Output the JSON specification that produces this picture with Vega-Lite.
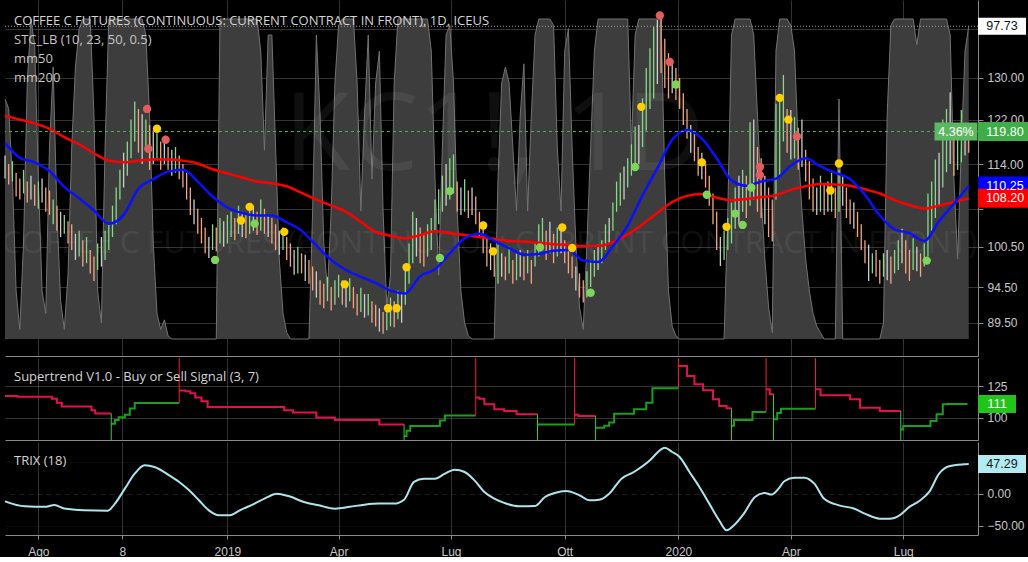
{
  "$schema": "https://vega.github.io/schema/vega-lite/v6.json",
  "background": "#000000",
  "padding": 0,
  "spacing": 1,
  "config": {
    "view": {"stroke": null},
    "axis": {"labelFont": "Liberation Sans", "labelFontSize": 12, "labelColor": "#c8c8c8", "grid": true, "gridColor": "#ffffff", "gridOpacity": 0.2, "gridWidth": 1, "domainColor": "#8a8a8a", "domainWidth": 1, "tickColor": "#8a8a8a", "tickSize": 5, "labelPadding": 4, "zindex": 1},
    "title": {"anchor": "start", "frame": "group", "orient": "top", "dx": 9, "font": "Open Sans", "fontSize": 13, "fontWeight": 400, "color": "#d4d4d4", "subtitleFont": "Open Sans", "subtitleFontSize": 13, "subtitleColor": "#c4c4c4", "subtitleLineHeight": 19, "subtitlePadding": 6}
  },
  "datasets": {
    "bars": [
      {"t":"2018-07-05","lo":111.5,"hi":115.5,"k":"n"},{"t":"2018-07-08","lo":110.5,"hi":114,"k":"d"},{"t":"2018-07-11","lo":111,"hi":114.5,"k":"u"},{"t":"2018-07-14","lo":108.5,"hi":112.5,"k":"d"},{"t":"2018-07-17","lo":108,"hi":111.5,"k":"d"},{"t":"2018-07-20","lo":109,"hi":113,"k":"u"},{"t":"2018-07-23","lo":107.5,"hi":111,"k":"d"},{"t":"2018-07-26","lo":108,"hi":112,"k":"n"},{"t":"2018-07-29","lo":107,"hi":110.5,"k":"d"},
      {"t":"2018-08-01","lo":106.5,"hi":111,"k":"u"},{"t":"2018-08-04","lo":107.5,"hi":111.5,"k":"n"},{"t":"2018-08-07","lo":106,"hi":110,"k":"d"},{"t":"2018-08-10","lo":105.5,"hi":109.5,"k":"d"},{"t":"2018-08-13","lo":104,"hi":108,"k":"u"},{"t":"2018-08-16","lo":103,"hi":107,"k":"d"},{"t":"2018-08-19","lo":102,"hi":106,"k":"n"},{"t":"2018-08-22","lo":102.5,"hi":105.5,"k":"u"},{"t":"2018-08-25","lo":101,"hi":104.5,"k":"d"},{"t":"2018-08-28","lo":100,"hi":104,"k":"d"},{"t":"2018-08-31","lo":98.5,"hi":102.5,"k":"n"},
      {"t":"2018-09-03","lo":99,"hi":103,"k":"u"},{"t":"2018-09-06","lo":97.5,"hi":101.5,"k":"d"},{"t":"2018-09-09","lo":98,"hi":102,"k":"u"},{"t":"2018-09-12","lo":96.5,"hi":100,"k":"d"},{"t":"2018-09-15","lo":95.4,"hi":99,"k":"d"},{"t":"2018-09-18","lo":97,"hi":101,"k":"u"},{"t":"2018-09-21","lo":97.5,"hi":102,"k":"n"},{"t":"2018-09-24","lo":98.5,"hi":103,"k":"u"},{"t":"2018-09-27","lo":100,"hi":104,"k":"u"},{"t":"2018-09-30","lo":102,"hi":107,"k":"u"},
      {"t":"2018-10-03","lo":104,"hi":110,"k":"u"},{"t":"2018-10-06","lo":108,"hi":113,"k":"u"},{"t":"2018-10-09","lo":110,"hi":116,"k":"n"},{"t":"2018-10-12","lo":112,"hi":118,"k":"u"},{"t":"2018-10-15","lo":115,"hi":122,"k":"u"},{"t":"2018-10-18","lo":118,"hi":125.4,"k":"u"},{"t":"2018-10-21","lo":116,"hi":124,"k":"d"},{"t":"2018-10-24","lo":114,"hi":123,"k":"n"},{"t":"2018-10-27","lo":117,"hi":122,"k":"u"},{"t":"2018-10-30","lo":113,"hi":121,"k":"d"},
      {"t":"2018-11-02","lo":114,"hi":120,"k":"n"},{"t":"2018-11-05","lo":115,"hi":119.5,"k":"u"},{"t":"2018-11-08","lo":113,"hi":118,"k":"d"},{"t":"2018-11-11","lo":114,"hi":118.5,"k":"n"},{"t":"2018-11-14","lo":113,"hi":117,"k":"d"},{"t":"2018-11-17","lo":112,"hi":116.5,"k":"n"},{"t":"2018-11-20","lo":112.5,"hi":117,"k":"u"},{"t":"2018-11-23","lo":111.4,"hi":115.5,"k":"d"},{"t":"2018-11-26","lo":110,"hi":114,"k":"d"},{"t":"2018-11-29","lo":108,"hi":112.5,"k":"d"},
      {"t":"2018-12-02","lo":105.5,"hi":110,"k":"d"},{"t":"2018-12-05","lo":104,"hi":108,"k":"n"},{"t":"2018-12-08","lo":102.5,"hi":106.5,"k":"d"},{"t":"2018-12-11","lo":101,"hi":105,"k":"d"},{"t":"2018-12-14","lo":99.5,"hi":103.5,"k":"d"},{"t":"2018-12-17","lo":98.8,"hi":102,"k":"n"},{"t":"2018-12-20","lo":100,"hi":104,"k":"u"},{"t":"2018-12-23","lo":99.8,"hi":103.5,"k":"d"},{"t":"2018-12-26","lo":101,"hi":105,"k":"u"},{"t":"2018-12-29","lo":100.5,"hi":104.5,"k":"n"},
      {"t":"2019-01-01","lo":101,"hi":105.5,"k":"u"},{"t":"2019-01-04","lo":102,"hi":106,"k":"u"},{"t":"2019-01-07","lo":101.5,"hi":105,"k":"d"},{"t":"2019-01-10","lo":102.5,"hi":107,"k":"u"},{"t":"2019-01-13","lo":102,"hi":106,"k":"n"},{"t":"2019-01-16","lo":101.8,"hi":105.5,"k":"d"},{"t":"2019-01-19","lo":102.5,"hi":106.5,"k":"u"},{"t":"2019-01-22","lo":103,"hi":107,"k":"n"},{"t":"2019-01-25","lo":102.3,"hi":106,"k":"d"},{"t":"2019-01-28","lo":103,"hi":108,"k":"u"},{"t":"2019-01-31","lo":102.5,"hi":106.5,"k":"d"},
      {"t":"2019-02-03","lo":102,"hi":105.5,"k":"n"},{"t":"2019-02-06","lo":101,"hi":105,"k":"d"},{"t":"2019-02-09","lo":100,"hi":104,"k":"d"},{"t":"2019-02-12","lo":99.3,"hi":103,"k":"n"},{"t":"2019-02-15","lo":100,"hi":103.5,"k":"u"},{"t":"2019-02-18","lo":98.5,"hi":102,"k":"d"},{"t":"2019-02-21","lo":97.5,"hi":101,"k":"d"},{"t":"2019-02-24","lo":96.3,"hi":100,"k":"n"},{"t":"2019-02-27","lo":96.5,"hi":100.5,"k":"u"},
      {"t":"2019-03-02","lo":96.5,"hi":99.5,"k":"d"},{"t":"2019-03-05","lo":95.4,"hi":99.3,"k":"n"},{"t":"2019-03-08","lo":95,"hi":98.5,"k":"d"},{"t":"2019-03-11","lo":94,"hi":97.5,"k":"d"},{"t":"2019-03-14","lo":93,"hi":96.8,"k":"n"},{"t":"2019-03-17","lo":92,"hi":95.5,"k":"d"},{"t":"2019-03-20","lo":91.5,"hi":95,"k":"d"},{"t":"2019-03-23","lo":92.5,"hi":96,"k":"u"},{"t":"2019-03-26","lo":91.2,"hi":94.5,"k":"d"},{"t":"2019-03-29","lo":92,"hi":95.5,"k":"u"},
      {"t":"2019-04-01","lo":93,"hi":96.3,"k":"u"},{"t":"2019-04-04","lo":92,"hi":95.5,"k":"d"},{"t":"2019-04-07","lo":91.6,"hi":95,"k":"n"},{"t":"2019-04-10","lo":92.5,"hi":95.8,"k":"u"},{"t":"2019-04-13","lo":91.5,"hi":94.5,"k":"d"},{"t":"2019-04-16","lo":90.5,"hi":93.5,"k":"d"},{"t":"2019-04-19","lo":91,"hi":94.4,"k":"u"},{"t":"2019-04-22","lo":90.2,"hi":93.5,"k":"n"},{"t":"2019-04-25","lo":90.5,"hi":93.5,"k":"u"},{"t":"2019-04-28","lo":89.5,"hi":92.5,"k":"d"},
      {"t":"2019-05-01","lo":89,"hi":92,"k":"d"},{"t":"2019-05-04","lo":88.3,"hi":91.5,"k":"n"},{"t":"2019-05-07","lo":88,"hi":91,"k":"d"},{"t":"2019-05-10","lo":88.5,"hi":92,"k":"u"},{"t":"2019-05-13","lo":89,"hi":93,"k":"u"},{"t":"2019-05-16","lo":88.9,"hi":92.5,"k":"d"},{"t":"2019-05-19","lo":90,"hi":94,"k":"u"},{"t":"2019-05-22","lo":89.5,"hi":93.5,"k":"n"},{"t":"2019-05-25","lo":92,"hi":97.5,"k":"u"},{"t":"2019-05-28","lo":95,"hi":101,"k":"u"},{"t":"2019-05-31","lo":98,"hi":106,"k":"u"},
      {"t":"2019-06-03","lo":99,"hi":105,"k":"n"},{"t":"2019-06-06","lo":98,"hi":103.5,"k":"d"},{"t":"2019-06-09","lo":97.5,"hi":102.5,"k":"d"},{"t":"2019-06-12","lo":99,"hi":104,"k":"u"},{"t":"2019-06-15","lo":100,"hi":105,"k":"u"},{"t":"2019-06-18","lo":103,"hi":108,"k":"u"},{"t":"2019-06-21","lo":104,"hi":109.7,"k":"u"},{"t":"2019-06-24","lo":106,"hi":112,"k":"u"},{"t":"2019-06-27","lo":107,"hi":114,"k":"n"},{"t":"2019-06-30","lo":108,"hi":115,"k":"u"},
      {"t":"2019-07-03","lo":109,"hi":115.7,"k":"u"},{"t":"2019-07-06","lo":106,"hi":111,"k":"d"},{"t":"2019-07-09","lo":105.5,"hi":110,"k":"n"},{"t":"2019-07-12","lo":106,"hi":111.4,"k":"u"},{"t":"2019-07-15","lo":105,"hi":109.5,"k":"d"},{"t":"2019-07-18","lo":105.5,"hi":110,"k":"n"},{"t":"2019-07-21","lo":104,"hi":108.5,"k":"d"},{"t":"2019-07-24","lo":102,"hi":106,"k":"d"},{"t":"2019-07-27","lo":99.5,"hi":104.4,"k":"d"},{"t":"2019-07-30","lo":97.5,"hi":102,"k":"d"},
      {"t":"2019-08-02","lo":97,"hi":101,"k":"n"},{"t":"2019-08-05","lo":96,"hi":100,"k":"d"},{"t":"2019-08-08","lo":95,"hi":100.8,"k":"u"},{"t":"2019-08-11","lo":96,"hi":99.5,"k":"n"},{"t":"2019-08-14","lo":95.5,"hi":99,"k":"d"},{"t":"2019-08-17","lo":96.5,"hi":100.5,"k":"u"},{"t":"2019-08-20","lo":95,"hi":98.5,"k":"d"},{"t":"2019-08-23","lo":95.5,"hi":99.5,"k":"u"},{"t":"2019-08-26","lo":96,"hi":100,"k":"n"},{"t":"2019-08-29","lo":95.5,"hi":99,"k":"d"},
      {"t":"2019-09-01","lo":96.5,"hi":100,"k":"u"},{"t":"2019-09-04","lo":95,"hi":98.5,"k":"d"},{"t":"2019-09-07","lo":97.5,"hi":101,"k":"u"},{"t":"2019-09-10","lo":99,"hi":104,"k":"u"},{"t":"2019-09-13","lo":100,"hi":105,"k":"u"},{"t":"2019-09-16","lo":98.5,"hi":103,"k":"d"},{"t":"2019-09-19","lo":99.5,"hi":104.4,"k":"n"},{"t":"2019-09-22","lo":98,"hi":102.5,"k":"d"},{"t":"2019-09-25","lo":99,"hi":103.5,"k":"u"},{"t":"2019-09-28","lo":99.5,"hi":104,"k":"n"},
      {"t":"2019-10-01","lo":98,"hi":101.5,"k":"d"},{"t":"2019-10-04","lo":96.5,"hi":100,"k":"d"},{"t":"2019-10-07","lo":95.8,"hi":99,"k":"d"},{"t":"2019-10-10","lo":94,"hi":97.5,"k":"n"},{"t":"2019-10-13","lo":93,"hi":96.5,"k":"d"},{"t":"2019-10-16","lo":92.3,"hi":95.5,"k":"d"},{"t":"2019-10-19","lo":93,"hi":96.8,"k":"u"},{"t":"2019-10-22","lo":94.5,"hi":98.5,"k":"u"},{"t":"2019-10-25","lo":96,"hi":100,"k":"u"},{"t":"2019-10-28","lo":97,"hi":100.8,"k":"n"},{"t":"2019-10-31","lo":98,"hi":101.5,"k":"u"},
      {"t":"2019-11-03","lo":100,"hi":104,"k":"u"},{"t":"2019-11-06","lo":101,"hi":105,"k":"n"},{"t":"2019-11-09","lo":103,"hi":107.5,"k":"u"},{"t":"2019-11-12","lo":106,"hi":111,"k":"u"},{"t":"2019-11-15","lo":107,"hi":112.5,"k":"u"},{"t":"2019-11-18","lo":108,"hi":113.6,"k":"n"},{"t":"2019-11-21","lo":110,"hi":115,"k":"u"},{"t":"2019-11-24","lo":112,"hi":117.5,"k":"u"},{"t":"2019-11-27","lo":113,"hi":120.7,"k":"u"},{"t":"2019-11-30","lo":114,"hi":121,"k":"n"},
      {"t":"2019-12-03","lo":117,"hi":126,"k":"u"},{"t":"2019-12-06","lo":120,"hi":132,"k":"u"},{"t":"2019-12-09","lo":124,"hi":136,"k":"u"},{"t":"2019-12-12","lo":126,"hi":140.5,"k":"u"},{"t":"2019-12-15","lo":128.8,"hi":142,"k":"n"},{"t":"2019-12-18","lo":131,"hi":143,"k":"d"},{"t":"2019-12-21","lo":128,"hi":138,"k":"d"},{"t":"2019-12-24","lo":126,"hi":135,"k":"d"},{"t":"2019-12-27","lo":127,"hi":133.5,"k":"n"},{"t":"2019-12-30","lo":125.7,"hi":132,"k":"d"},
      {"t":"2020-01-02","lo":124,"hi":130,"k":"d"},{"t":"2020-01-05","lo":121,"hi":127,"k":"d"},{"t":"2020-01-08","lo":118.5,"hi":124,"k":"d"},{"t":"2020-01-11","lo":116,"hi":121,"k":"n"},{"t":"2020-01-14","lo":114.5,"hi":119.5,"k":"d"},{"t":"2020-01-17","lo":112,"hi":117,"k":"d"},{"t":"2020-01-20","lo":111.4,"hi":116,"k":"n"},{"t":"2020-01-23","lo":110,"hi":114,"k":"d"},{"t":"2020-01-26","lo":107,"hi":112,"k":"d"},{"t":"2020-01-29","lo":104,"hi":109,"k":"d"},
      {"t":"2020-02-01","lo":100,"hi":106,"k":"d"},{"t":"2020-02-04","lo":97.6,"hi":102,"k":"n"},{"t":"2020-02-07","lo":98.5,"hi":103,"k":"u"},{"t":"2020-02-10","lo":100,"hi":105,"k":"u"},{"t":"2020-02-13","lo":101,"hi":107.5,"k":"u"},{"t":"2020-02-16","lo":103.3,"hi":110,"k":"u"},{"t":"2020-02-19","lo":104,"hi":112,"k":"n"},{"t":"2020-02-22","lo":106,"hi":113,"k":"u"},{"t":"2020-02-25","lo":105,"hi":112,"k":"d"},{"t":"2020-02-28","lo":107,"hi":121.5,"k":"u"},
      {"t":"2020-03-02","lo":108,"hi":122,"k":"n"},{"t":"2020-03-05","lo":106,"hi":117,"k":"d"},{"t":"2020-03-08","lo":105,"hi":115,"k":"d"},{"t":"2020-03-11","lo":104,"hi":112,"k":"n"},{"t":"2020-03-14","lo":102,"hi":110,"k":"d"},{"t":"2020-03-17","lo":101.3,"hi":108,"k":"d"},{"t":"2020-03-20","lo":108,"hi":125,"k":"u"},{"t":"2020-03-23","lo":112,"hi":126,"k":"u"},{"t":"2020-03-26","lo":118,"hi":130.6,"k":"u"},{"t":"2020-03-29","lo":116,"hi":124,"k":"d"},
      {"t":"2020-04-01","lo":114.8,"hi":123.8,"k":"n"},{"t":"2020-04-04","lo":115,"hi":122.5,"k":"u"},{"t":"2020-04-07","lo":113,"hi":120.5,"k":"d"},{"t":"2020-04-10","lo":113.5,"hi":122,"k":"n"},{"t":"2020-04-13","lo":111,"hi":116.5,"k":"d"},{"t":"2020-04-16","lo":108,"hi":114.5,"k":"d"},{"t":"2020-04-19","lo":106,"hi":111.5,"k":"d"},{"t":"2020-04-22","lo":105.5,"hi":110,"k":"n"},{"t":"2020-04-25","lo":106,"hi":112,"k":"u"},{"t":"2020-04-28","lo":105.5,"hi":110.5,"k":"d"},
      {"t":"2020-05-01","lo":106,"hi":111,"k":"n"},{"t":"2020-05-04","lo":106,"hi":112.5,"k":"u"},{"t":"2020-05-07","lo":105,"hi":110,"k":"d"},{"t":"2020-05-10","lo":106,"hi":113,"k":"u"},{"t":"2020-05-13","lo":107,"hi":112,"k":"n"},{"t":"2020-05-16","lo":105,"hi":110,"k":"d"},{"t":"2020-05-19","lo":104,"hi":108,"k":"d"},{"t":"2020-05-22","lo":103.3,"hi":107.5,"k":"n"},{"t":"2020-05-25","lo":102,"hi":106,"k":"d"},{"t":"2020-05-28","lo":100,"hi":104,"k":"d"},{"t":"2020-05-31","lo":98,"hi":101.5,"k":"d"},
      {"t":"2020-06-03","lo":95.4,"hi":100.8,"k":"n"},{"t":"2020-06-06","lo":96.5,"hi":99.5,"k":"u"},{"t":"2020-06-09","lo":96,"hi":100,"k":"d"},{"t":"2020-06-12","lo":95,"hi":98.5,"k":"d"},{"t":"2020-06-15","lo":96,"hi":99.5,"k":"u"},{"t":"2020-06-18","lo":95.5,"hi":100,"k":"n"},{"t":"2020-06-21","lo":95,"hi":99,"k":"d"},{"t":"2020-06-24","lo":96.5,"hi":100,"k":"u"},{"t":"2020-06-27","lo":97,"hi":101.5,"k":"u"},{"t":"2020-06-30","lo":98,"hi":103.3,"k":"n"},
      {"t":"2020-07-03","lo":96.5,"hi":101.5,"k":"d"},{"t":"2020-07-06","lo":95.4,"hi":100,"k":"d"},{"t":"2020-07-09","lo":97,"hi":101.8,"k":"u"},{"t":"2020-07-12","lo":96.8,"hi":100.5,"k":"n"},{"t":"2020-07-15","lo":96,"hi":99.5,"k":"d"},{"t":"2020-07-18","lo":97.5,"hi":101,"k":"u"},{"t":"2020-07-21","lo":99,"hi":109,"k":"u"},{"t":"2020-07-24","lo":103,"hi":111,"k":"u"},{"t":"2020-07-27","lo":105,"hi":114.8,"k":"u"},{"t":"2020-07-30","lo":107,"hi":116,"k":"n"},
      {"t":"2020-08-02","lo":110,"hi":122,"k":"u"},{"t":"2020-08-05","lo":112.6,"hi":124,"k":"u"},{"t":"2020-08-08","lo":114,"hi":127.2,"k":"n"},{"t":"2020-08-11","lo":112,"hi":119.5,"k":"d"},{"t":"2020-08-14","lo":113,"hi":121,"k":"u"},{"t":"2020-08-17","lo":114.3,"hi":123.8,"k":"u"},{"t":"2020-08-20","lo":115.5,"hi":121,"k":"n"},{"t":"2020-08-23","lo":116,"hi":120.7,"k":"d"}
    ],
    "ma": [
      {"t":"2018-07-05","m50":117.7,"m200":122.7},{"t":"2018-07-17","m50":115.1,"m200":122},{"t":"2018-07-29","m50":114.3,"m200":121.3},{"t":"2018-08-10","m50":112.8,"m200":120.3},{"t":"2018-08-22","m50":110.1,"m200":118.8},{"t":"2018-09-03","m50":108.2,"m200":117.5},{"t":"2018-09-15","m50":106.2,"m200":115.9},{"t":"2018-09-27","m50":104.1,"m200":114.6},{"t":"2018-10-09","m50":105.5,"m200":114.3},{"t":"2018-10-21","m50":109.8,"m200":114.6},{"t":"2018-11-02","m50":111.4,"m200":114.8},{"t":"2018-11-14","m50":112.7,"m200":114.8},{"t":"2018-11-26","m50":113,"m200":114.6},{"t":"2018-12-08","m50":111,"m200":114.1},{"t":"2018-12-20","m50":108.5,"m200":113.1},
      {"t":"2019-01-01","m50":106.7,"m200":112.4},{"t":"2019-01-13","m50":105.8,"m200":111.7},{"t":"2019-01-25","m50":105.4,"m200":111},{"t":"2019-02-06","m50":105.4,"m200":110.7},{"t":"2019-02-18","m50":104.3,"m200":110.2},{"t":"2019-03-02","m50":103,"m200":109.1},{"t":"2019-03-14","m50":100.7,"m200":108},{"t":"2019-03-26","m50":98.5,"m200":107},{"t":"2019-04-07","m50":97,"m200":106},{"t":"2019-04-19","m50":96,"m200":104.4},{"t":"2019-05-01","m50":95.1,"m200":102.8},{"t":"2019-05-13","m50":94,"m200":102.2},{"t":"2019-05-25","m50":93.6,"m200":101.8},{"t":"2019-06-06","m50":96.1,"m200":102.3},{"t":"2019-06-18","m50":97.1,"m200":102.9},{"t":"2019-06-30","m50":99.5,"m200":102.6},{"t":"2019-07-12","m50":101.8,"m200":102.3},{"t":"2019-07-24","m50":102.5,"m200":102},{"t":"2019-08-05","m50":101.4,"m200":101.7},{"t":"2019-08-17","m50":100.3,"m200":101.4},{"t":"2019-08-29","m50":99.3,"m200":101.3},{"t":"2019-09-10","m50":99.4,"m200":101.1},{"t":"2019-09-22","m50":99.9,"m200":100.9},{"t":"2019-10-04","m50":100,"m200":100.8},{"t":"2019-10-16","m50":98.4,"m200":100.6},{"t":"2019-10-28","m50":98.2,"m200":100.6},{"t":"2019-11-09","m50":100.6,"m200":101.2},{"t":"2019-11-21","m50":103.8,"m200":102.4},{"t":"2019-12-03","m50":108.7,"m200":104},{"t":"2019-12-15","m50":113.3,"m200":105.8},{"t":"2019-12-27","m50":118.3,"m200":107.6},
      {"t":"2020-01-08","m50":120.1,"m200":108.6},{"t":"2020-01-20","m50":118.5,"m200":108.9},{"t":"2020-02-01","m50":115,"m200":108.3},{"t":"2020-02-13","m50":111.2,"m200":107.9},{"t":"2020-02-25","m50":110.3,"m200":108.1},{"t":"2020-03-08","m50":111,"m200":108.4},{"t":"2020-03-20","m50":111.5,"m200":108.7},{"t":"2020-04-01","m50":113.7,"m200":109.6},{"t":"2020-04-13","m50":115,"m200":110.2},{"t":"2020-04-25","m50":113.6,"m200":110.6},{"t":"2020-05-07","m50":112.5,"m200":110.5},{"t":"2020-05-19","m50":111.4,"m200":110.3},{"t":"2020-05-31","m50":108.8,"m200":109.7},{"t":"2020-06-12","m50":105.4,"m200":109},{"t":"2020-06-24","m50":103.2,"m200":107.9},{"t":"2020-07-06","m50":102.6,"m200":107.1},{"t":"2020-07-18","m50":101.4,"m200":106.5},{"t":"2020-07-30","m50":104.5,"m200":107},{"t":"2020-08-11","m50":107.3,"m200":107.6},{"t":"2020-08-23","m50":110.25,"m200":108.2}
    ],
    "dots": [
      {"t":"2018-10-28","v":124.0,"k":"r"},{"t":"2018-11-05","v":120.3,"k":"y"},{"t":"2018-11-12","v":118.3,"k":"r"},{"t":"2018-10-29","v":116.7,"k":"r"},{"t":"2018-12-22","v":98.5,"k":"g"},{"t":"2019-01-12","v":104.6,"k":"y"},{"t":"2019-01-19","v":106.8,"k":"y"},{"t":"2019-01-23","v":104.1,"k":"g"},{"t":"2019-02-16","v":102.8,"k":"y"},{"t":"2019-04-06","v":94.9,"k":"y"},{"t":"2019-05-11","v":91.5,"k":"y"},{"t":"2019-05-18","v":91.5,"k":"y"},{"t":"2019-05-26","v":97.4,"k":"y"},{"t":"2019-06-22","v":98.8,"k":"g"},{"t":"2019-06-30","v":109.4,"k":"g"},{"t":"2019-07-27","v":103.8,"k":"y"},{"t":"2019-08-04","v":99.8,"k":"y"},{"t":"2019-09-11","v":100.4,"k":"g"},{"t":"2019-09-29","v":103.5,"k":"y"},{"t":"2019-10-07","v":100.3,"k":"y"},{"t":"2019-10-22","v":93.7,"k":"g"},{"t":"2019-11-27","v":113.5,"k":"g"},{"t":"2019-12-02","v":124.4,"k":"y"},{"t":"2019-12-17","v":143,"k":"r"},{"t":"2019-12-25","v":133.2,"k":"r"},{"t":"2019-12-30","v":128.7,"k":"g"},{"t":"2020-01-20","v":114.3,"k":"y"},{"t":"2020-01-24","v":108.8,"k":"g"},{"t":"2020-02-09","v":103.6,"k":"y"},{"t":"2020-02-16","v":105.7,"k":"g"},{"t":"2020-02-22","v":103.9,"k":"g"},{"t":"2020-02-29","v":110,"k":"g"},{"t":"2020-03-07","v":113.5,"k":"r"},{"t":"2020-03-07","v":112.1,"k":"r"},{"t":"2020-03-23","v":126.1,"k":"y"},{"t":"2020-03-30","v":122,"k":"y"},{"t":"2020-04-06","v":118.9,"k":"r"},{"t":"2020-05-03","v":109.5,"k":"y"},{"t":"2020-05-10","v":114.1,"k":"y"},{"t":"2020-07-20","v":98.4,"k":"g"}
    ],
    "stc": [
      {"t":"2018-07-05","v":75},{"t":"2018-07-08","v":72},{"t":"2018-07-11","v":50},{"t":"2018-07-14","v":15},{"t":"2018-07-17","v":3},{"t":"2018-07-20","v":30},{"t":"2018-07-23","v":80},{"t":"2018-07-26","v":100},{"t":"2018-07-29","v":92},{"t":"2018-08-01","v":50},{"t":"2018-08-04","v":15},{"t":"2018-08-07","v":8},{"t":"2018-08-10","v":60},{"t":"2018-08-13","v":85},{"t":"2018-08-16","v":40},{"t":"2018-08-19","v":12},{"t":"2018-08-22","v":3},{"t":"2018-08-25","v":20},{"t":"2018-08-28","v":60},{"t":"2018-08-31","v":85},{"t":"2018-09-03","v":97},{"t":"2018-09-06","v":100},{"t":"2018-09-12","v":100},{"t":"2018-09-15","v":70},{"t":"2018-09-18","v":15},{"t":"2018-09-21","v":5},{"t":"2018-09-24","v":60},{"t":"2018-09-27","v":100},{"t":"2018-10-24","v":100},{"t":"2018-10-27","v":95},{"t":"2018-10-30","v":70},{"t":"2018-11-02","v":30},{"t":"2018-11-05","v":8},{"t":"2018-11-08","v":3},{"t":"2018-11-11","v":6},{"t":"2018-11-14","v":1},{"t":"2018-11-17","v":0},{"t":"2018-12-23","v":0},{"t":"2018-12-26","v":100},
      {"t":"2019-01-25","v":100},{"t":"2019-01-28","v":90},{"t":"2019-01-31","v":59},{"t":"2019-02-03","v":95},{"t":"2019-02-06","v":95},{"t":"2019-02-09","v":60},{"t":"2019-02-12","v":25},{"t":"2019-02-15","v":8},{"t":"2019-02-18","v":2},{"t":"2019-02-21","v":0},{"t":"2019-03-08","v":0},{"t":"2019-03-11","v":40},{"t":"2019-03-14","v":95},{"t":"2019-03-17","v":70},{"t":"2019-03-20","v":30},{"t":"2019-03-23","v":15},{"t":"2019-03-26","v":40},{"t":"2019-03-29","v":80},{"t":"2019-04-01","v":98},{"t":"2019-04-04","v":100},{"t":"2019-04-13","v":100},{"t":"2019-04-16","v":80},{"t":"2019-04-19","v":40},{"t":"2019-04-22","v":70},{"t":"2019-04-25","v":95},{"t":"2019-04-28","v":50},{"t":"2019-05-01","v":80},{"t":"2019-05-04","v":90},{"t":"2019-05-07","v":40},{"t":"2019-05-10","v":10},{"t":"2019-05-13","v":20},{"t":"2019-05-16","v":80},{"t":"2019-05-19","v":100},{"t":"2019-06-12","v":100},{"t":"2019-06-15","v":90},{"t":"2019-06-18","v":50},{"t":"2019-06-21","v":20},{"t":"2019-06-24","v":60},{"t":"2019-06-27","v":95},{"t":"2019-06-30","v":98},{"t":"2019-07-03","v":80},{"t":"2019-07-06","v":40},{"t":"2019-07-09","v":15},{"t":"2019-07-12","v":5},{"t":"2019-07-15","v":1},{"t":"2019-07-18","v":0},{"t":"2019-08-05","v":0},{"t":"2019-08-08","v":50},{"t":"2019-08-11","v":80},{"t":"2019-08-14","v":85},{"t":"2019-08-17","v":80},{"t":"2019-08-20","v":60},{"t":"2019-08-23","v":40},{"t":"2019-08-26","v":70},{"t":"2019-08-29","v":86},{"t":"2019-09-01","v":40},{"t":"2019-09-04","v":70},{"t":"2019-09-07","v":95},{"t":"2019-09-10","v":100},{"t":"2019-09-19","v":100},{"t":"2019-09-22","v":98},{"t":"2019-09-25","v":60},{"t":"2019-09-28","v":40},{"t":"2019-10-01","v":90},{"t":"2019-10-04","v":97},{"t":"2019-10-07","v":60},{"t":"2019-10-10","v":30},{"t":"2019-10-13","v":10},{"t":"2019-10-16","v":3},{"t":"2019-10-19","v":30},{"t":"2019-10-22","v":60},{"t":"2019-10-25","v":90},{"t":"2019-10-28","v":100},{"t":"2019-11-21","v":100},{"t":"2019-11-24","v":60},{"t":"2019-11-27","v":95},{"t":"2019-11-30","v":100},{"t":"2019-12-18","v":100},{"t":"2019-12-21","v":50},{"t":"2019-12-24","v":15},{"t":"2019-12-27","v":4},{"t":"2019-12-30","v":1},
      {"t":"2020-01-02","v":0},{"t":"2020-02-07","v":0},{"t":"2020-02-10","v":40},{"t":"2020-02-13","v":95},{"t":"2020-02-16","v":100},{"t":"2020-02-28","v":100},{"t":"2020-03-02","v":95},{"t":"2020-03-05","v":70},{"t":"2020-03-08","v":45},{"t":"2020-03-11","v":25},{"t":"2020-03-14","v":10},{"t":"2020-03-17","v":2},{"t":"2020-03-20","v":90},{"t":"2020-03-23","v":100},{"t":"2020-03-29","v":100},{"t":"2020-04-01","v":98},{"t":"2020-04-04","v":90},{"t":"2020-04-07","v":60},{"t":"2020-04-10","v":40},{"t":"2020-04-13","v":25},{"t":"2020-04-16","v":15},{"t":"2020-04-19","v":8},{"t":"2020-04-22","v":4},{"t":"2020-04-25","v":2},{"t":"2020-04-28","v":0},{"t":"2020-05-07","v":0},{"t":"2020-05-10","v":75},{"t":"2020-05-13","v":0},{"t":"2020-06-12","v":0},{"t":"2020-06-15","v":5},{"t":"2020-06-18","v":70},{"t":"2020-06-21","v":98},{"t":"2020-06-24","v":100},{"t":"2020-07-09","v":100},{"t":"2020-07-12","v":92},{"t":"2020-07-15","v":100},{"t":"2020-08-05","v":100},{"t":"2020-08-08","v":95},{"t":"2020-08-11","v":50},{"t":"2020-08-14","v":25},{"t":"2020-08-17","v":60},{"t":"2020-08-20","v":90},{"t":"2020-08-23","v":97.73}
    ],
    "st": [
      {"t":"2018-07-05","v":117.2,"seg":1,"tr":"sell"},{"t":"2018-07-15","v":116.6,"seg":1,"tr":"sell"},{"t":"2018-08-12","v":115,"seg":1,"tr":"sell"},{"t":"2018-08-16","v":112,"seg":1,"tr":"sell"},{"t":"2018-08-20","v":108.9,"seg":1,"tr":"sell"},{"t":"2018-09-13","v":106,"seg":1,"tr":"sell"},{"t":"2018-09-16","v":103.6,"seg":1,"tr":"sell"},{"t":"2018-09-29","v":103.6,"seg":1,"tr":"sell"},
      {"t":"2018-09-29","v":95.5,"seg":2,"tr":"buy"},{"t":"2018-10-02","v":98.5,"seg":2,"tr":"buy"},{"t":"2018-10-05","v":100.5,"seg":2,"tr":"buy"},{"t":"2018-10-10","v":102.5,"seg":2,"tr":"buy"},{"t":"2018-10-14","v":107.5,"seg":2,"tr":"buy"},{"t":"2018-10-18","v":111.7,"seg":2,"tr":"buy"},{"t":"2018-11-23","v":111.7,"seg":2,"tr":"buy"},
      {"t":"2018-11-23","v":121.5,"seg":3,"tr":"sell"},{"t":"2018-11-28","v":121,"seg":3,"tr":"sell"},{"t":"2018-12-02","v":119.3,"seg":3,"tr":"sell"},{"t":"2018-12-06","v":116,"seg":3,"tr":"sell"},{"t":"2018-12-11","v":113,"seg":3,"tr":"sell"},{"t":"2018-12-16","v":108.5,"seg":3,"tr":"sell"},{"t":"2019-02-16","v":106,"seg":3,"tr":"sell"},{"t":"2019-02-23","v":104.2,"seg":3,"tr":"sell"},{"t":"2019-03-14","v":100.3,"seg":3,"tr":"sell"},{"t":"2019-03-29","v":98.4,"seg":3,"tr":"sell"},{"t":"2019-05-04","v":95,"seg":3,"tr":"sell"},{"t":"2019-05-24","v":95,"seg":3,"tr":"sell"},
      {"t":"2019-05-24","v":86,"seg":4,"tr":"buy"},{"t":"2019-05-26","v":90,"seg":4,"tr":"buy"},{"t":"2019-05-29","v":93.8,"seg":4,"tr":"buy"},{"t":"2019-06-22","v":98,"seg":4,"tr":"buy"},{"t":"2019-06-26","v":102,"seg":4,"tr":"buy"},{"t":"2019-07-21","v":102,"seg":4,"tr":"buy"},
      {"t":"2019-07-21","v":116,"seg":5,"tr":"sell"},{"t":"2019-07-24","v":115,"seg":5,"tr":"sell"},{"t":"2019-07-28","v":110.7,"seg":5,"tr":"sell"},{"t":"2019-08-05","v":106.8,"seg":5,"tr":"sell"},{"t":"2019-08-13","v":105.5,"seg":5,"tr":"sell"},{"t":"2019-08-23","v":102.9,"seg":5,"tr":"sell"},{"t":"2019-09-09","v":102.9,"seg":5,"tr":"sell"},
      {"t":"2019-09-09","v":95,"seg":6,"tr":"buy"},{"t":"2019-10-09","v":95,"seg":6,"tr":"buy"},
      {"t":"2019-10-09","v":102.5,"seg":7,"tr":"sell"},{"t":"2019-10-12","v":101.6,"seg":7,"tr":"sell"},{"t":"2019-10-26","v":101.6,"seg":7,"tr":"sell"},
      {"t":"2019-10-26","v":92.4,"seg":8,"tr":"buy"},{"t":"2019-11-02","v":94,"seg":8,"tr":"buy"},{"t":"2019-11-06","v":96.4,"seg":8,"tr":"buy"},{"t":"2019-11-10","v":103.4,"seg":8,"tr":"buy"},{"t":"2019-11-26","v":106.8,"seg":8,"tr":"buy"},{"t":"2019-12-06","v":112,"seg":8,"tr":"buy"},{"t":"2019-12-11","v":123.2,"seg":8,"tr":"buy"},{"t":"2020-01-01","v":123.2,"seg":8,"tr":"buy"},
      {"t":"2020-01-01","v":140.6,"seg":9,"tr":"sell"},{"t":"2020-01-08","v":132.8,"seg":9,"tr":"sell"},{"t":"2020-01-14","v":126.3,"seg":9,"tr":"sell"},{"t":"2020-01-21","v":121.6,"seg":9,"tr":"sell"},{"t":"2020-01-29","v":114.6,"seg":9,"tr":"sell"},{"t":"2020-02-03","v":109.4,"seg":9,"tr":"sell"},{"t":"2020-02-09","v":107.6,"seg":9,"tr":"sell"},{"t":"2020-02-13","v":107.6,"seg":9,"tr":"sell"},
      {"t":"2020-02-13","v":94,"seg":10,"tr":"buy"},{"t":"2020-02-15","v":98.4,"seg":10,"tr":"buy"},{"t":"2020-03-01","v":104.7,"seg":10,"tr":"buy"},{"t":"2020-03-12","v":104.7,"seg":10,"tr":"buy"},
      {"t":"2020-03-12","v":122.4,"seg":11,"tr":"sell"},{"t":"2020-03-15","v":118.5,"seg":11,"tr":"sell"},{"t":"2020-03-18","v":118.5,"seg":11,"tr":"sell"},
      {"t":"2020-03-18","v":99,"seg":12,"tr":"buy"},{"t":"2020-03-21","v":104,"seg":12,"tr":"buy"},{"t":"2020-03-24","v":107.3,"seg":12,"tr":"buy"},{"t":"2020-04-21","v":107.3,"seg":12,"tr":"buy"},
      {"t":"2020-04-21","v":122.4,"seg":13,"tr":"sell"},{"t":"2020-04-25","v":117.7,"seg":13,"tr":"sell"},{"t":"2020-05-19","v":114.6,"seg":13,"tr":"sell"},{"t":"2020-05-27","v":108,"seg":13,"tr":"sell"},{"t":"2020-06-12","v":105.5,"seg":13,"tr":"sell"},{"t":"2020-06-29","v":105.5,"seg":13,"tr":"sell"},
      {"t":"2020-06-29","v":91,"seg":14,"tr":"buy"},{"t":"2020-07-01","v":93.8,"seg":14,"tr":"buy"},{"t":"2020-07-23","v":97.7,"seg":14,"tr":"buy"},{"t":"2020-07-28","v":102.9,"seg":14,"tr":"buy"},{"t":"2020-08-02","v":110.7,"seg":14,"tr":"buy"},{"t":"2020-08-06","v":111,"seg":14,"tr":"buy"},{"t":"2020-08-22","v":111,"seg":14,"tr":"buy"}
    ],
    "spk": [
      {"t":"2018-11-23","v":111.7,"tr":"sell"},{"t":"2019-07-21","v":102,"tr":"sell"},{"t":"2019-10-09","v":95,"tr":"sell"},{"t":"2020-01-01","v":123.2,"tr":"sell"},{"t":"2020-03-12","v":104.7,"tr":"sell"},{"t":"2020-04-21","v":107.3,"tr":"sell"},
      {"t":"2018-09-29","v":103.6,"tr":"buy"},{"t":"2019-05-24","v":95,"tr":"buy"},{"t":"2019-09-09","v":102.9,"tr":"buy"},{"t":"2019-10-26","v":101.6,"tr":"buy"},{"t":"2020-02-13","v":107.6,"tr":"buy"},{"t":"2020-03-18","v":118.5,"tr":"buy"},{"t":"2020-06-29","v":105.5,"tr":"buy"}
    ],
    "trix": [
      {"t":"2018-07-05","v":-11.6},{"t":"2018-07-21","v":-19.5},{"t":"2018-08-06","v":-20.3},{"t":"2018-08-14","v":-17.4},{"t":"2018-08-22","v":-23},{"t":"2018-09-07","v":-25.8},{"t":"2018-09-26","v":-26.5},{"t":"2018-10-02","v":-15.2},{"t":"2018-10-10","v":8.4},{"t":"2018-10-18","v":32},{"t":"2018-10-26","v":45.2},{"t":"2018-11-03","v":42.6},{"t":"2018-11-15","v":29.4},{"t":"2018-11-23","v":18.9},{"t":"2018-12-01","v":5.8},{"t":"2018-12-09","v":-10},{"t":"2018-12-17","v":-25.8},{"t":"2018-12-25","v":-33.6},
      {"t":"2019-01-03","v":-33.6},{"t":"2019-01-11","v":-25.8},{"t":"2019-01-23","v":-15.2},{"t":"2019-01-31","v":-7.4},{"t":"2019-02-10","v":0.5},{"t":"2019-02-20","v":-3.7},{"t":"2019-03-04","v":-12.6},{"t":"2019-03-16","v":-17.9},{"t":"2019-03-29","v":-23.1},{"t":"2019-04-10","v":-20.3},{"t":"2019-04-22","v":-16.8},{"t":"2019-05-04","v":-15.2},{"t":"2019-05-16","v":-15.2},{"t":"2019-05-24","v":-9},{"t":"2019-06-01","v":19},{"t":"2019-06-09","v":24.2},{"t":"2019-06-18","v":24.2},{"t":"2019-06-26","v":32},{"t":"2019-07-04","v":38.4},{"t":"2019-07-12","v":34.7},{"t":"2019-07-20","v":21.5},{"t":"2019-07-28","v":3.2},{"t":"2019-08-05","v":-7.4},{"t":"2019-08-13","v":-14},{"t":"2019-08-25","v":-19.5},{"t":"2019-09-07","v":-19},{"t":"2019-09-15","v":-4.7},{"t":"2019-09-23","v":1.6},{"t":"2019-10-02","v":4.7},{"t":"2019-10-13","v":-2.1},{"t":"2019-10-21","v":-10},{"t":"2019-10-29","v":-9},{"t":"2019-11-06","v":0.5},{"t":"2019-11-16","v":24.2},{"t":"2019-11-26","v":34.7},{"t":"2019-12-09","v":53.1},{"t":"2019-12-17","v":68.9},{"t":"2019-12-21","v":73},{"t":"2019-12-27","v":66.2},
      {"t":"2020-01-02","v":58.4},{"t":"2020-01-10","v":34.7},{"t":"2020-01-18","v":11},{"t":"2020-01-26","v":-15.2},{"t":"2020-02-03","v":-41.5},{"t":"2020-02-09","v":-57.3},{"t":"2020-02-15","v":-49.4},{"t":"2020-02-23","v":-31},{"t":"2020-03-03","v":-4.7},{"t":"2020-03-11","v":1.6},{"t":"2020-03-16","v":-1},{"t":"2020-03-21","v":5.8},{"t":"2020-03-27","v":20.5},{"t":"2020-04-04","v":25.7},{"t":"2020-04-12","v":25.7},{"t":"2020-04-20","v":16.3},{"t":"2020-04-28","v":-7.4},{"t":"2020-05-10","v":-17.9},{"t":"2020-05-22","v":-23},{"t":"2020-05-31","v":-31},{"t":"2020-06-12","v":-38.9},{"t":"2020-06-20","v":-38.9},{"t":"2020-06-28","v":-33.6},{"t":"2020-07-06","v":-20.3},{"t":"2020-07-14","v":-11},{"t":"2020-07-22","v":3.2},{"t":"2020-07-30","v":32},{"t":"2020-08-07","v":43.7},{"t":"2020-08-19","v":46.8},{"t":"2020-08-23","v":47.29}
    ]
  },
  "vconcat": [
    {
      "width": 973,
      "height": 356,
      "title": {"text": "COFFEE C FUTURES (CONTINUOUS: CURRENT CONTRACT IN FRONT), 1D, ICEUS", "subtitle": ["STC_LB (10, 23, 50, 0.5)", "mm50", "mm200"], "offset": -85},
      "resolve": {"scale": {"y": "independent", "color": "independent"}, "axis": {"y": "independent"}},
      "layer": [
        {
          "layer": [
            {
              "data": {"name": "stc"},
              "mark": {"type": "area", "color": "#3d3d3d", "opacity": 1, "interpolate": "linear", "line": {"color": "#727272", "strokeWidth": 1}},
              "encoding": {
                "x": {"field": "t", "type": "temporal", "scale": {"type": "utc", "domain": [{"year": 2018, "month": 7, "date": 5, "utc": true}, {"year": 2020, "month": 8, "date": 30, "hours": 12, "utc": true}]}, "axis": {"title": null, "labels": false, "ticks": false, "domain": true, "grid": true, "values": [{"year": 2018, "month": 8, "date": 1, "utc": true}, {"year": 2018, "month": 10, "date": 8, "utc": true}, {"year": 2019, "month": 1, "date": 1, "utc": true}, {"year": 2019, "month": 4, "date": 1, "utc": true}, {"year": 2019, "month": 7, "date": 1, "utc": true}, {"year": 2019, "month": 10, "date": 1, "utc": true}, {"year": 2020, "month": 1, "date": 1, "utc": true}, {"year": 2020, "month": 4, "date": 1, "utc": true}, {"year": 2020, "month": 7, "date": 1, "utc": true}]}},
                "y": {"field": "v", "type": "quantitative", "scale": {"domain": [-5.31, 105.94], "nice": false, "zero": false}, "axis": null}
              }
            },
            {
              "data": {"values": [{"v": 97.73}]},
              "mark": {"type": "rule", "color": "#9a9a9a", "strokeDash": [1, 2], "strokeWidth": 1},
              "encoding": {"y": {"field": "v", "type": "quantitative"}}
            },
            {
              "data": {"values": [{"v": 97.73}]},
              "mark": {"type": "point", "shape": "M-1,-0.354H1V0.354H-1Z", "size": 2304, "filled": true, "opacity": 1, "color": "#ffffff", "strokeWidth": 0, "xOffset": 24},
              "encoding": {"x": {"value": "width"}, "y": {"field": "v", "type": "quantitative"}}
            },
            {
              "data": {"values": [{"v": 97.73}]},
              "mark": {"type": "text", "font": "Liberation Sans", "fontSize": 12.5, "color": "#111111", "align": "center", "baseline": "middle", "xOffset": 24},
              "encoding": {"x": {"value": "width"}, "y": {"field": "v", "type": "quantitative"}, "text": {"field": "v", "type": "quantitative", "format": ".2f"}}
            }
          ]
        },
        {
          "resolve": {"scale": {"color": "independent"}},
          "layer": [
            {
              "data": {"values": [{"w": "KC1!, 1D"}]},
              "mark": {"type": "text", "font": "Open Sans", "fontSize": 108, "color": "#ffffff", "opacity": 0.06, "align": "center", "baseline": "middle", "clip": true},
              "encoding": {
                "x": {"datum": {"year": 2019, "month": 8, "date": 5, "utc": true}, "type": "temporal", "scale": {"type": "utc", "domain": [{"year": 2018, "month": 7, "date": 5, "utc": true}, {"year": 2020, "month": 8, "date": 30, "hours": 12, "utc": true}]}},
                "y": {"datum": 118.7, "type": "quantitative", "scale": {"type": "log", "domain": [85.08, 146.4], "nice": false, "zero": false}},
                "text": {"field": "w"}
              }
            },
            {
              "data": {"values": [{"w": "COFFEE C FUTURES (CONTINUOUS: CURRENT CONTRACT IN FRONT)"}]},
              "mark": {"type": "text", "font": "Open Sans", "fontSize": 31, "color": "#ffffff", "opacity": 0.06, "align": "center", "baseline": "middle", "clip": true},
              "encoding": {
                "x": {"datum": {"year": 2019, "month": 8, "date": 1, "utc": true}, "type": "temporal"},
                "y": {"datum": 100.9, "type": "quantitative"},
                "text": {"field": "w"}
              }
            },
            {
              "data": {"name": "bars"},
              "mark": {"type": "rule", "strokeWidth": 1.3},
              "encoding": {
                "x": {"field": "t", "type": "temporal"},
                "y": {"field": "lo", "type": "quantitative", "scale": {"type": "log", "domain": [85.08, 146.4], "nice": false, "zero": false}, "axis": {"orient": "right", "title": null, "values": [89.5, 94.5, 100.5, 106.5, 114, 122, 130, 140], "labelExpr": "datum.value == 140 || datum.value == 106.5 ? '' : format(datum.value, '.2f')", "grid": true}},
                "y2": {"field": "hi"},
                "color": {"field": "k", "type": "nominal", "scale": {"domain": ["u", "d", "n"], "range": ["#86d986", "#f4a57f", "#cdcdcd"]}, "legend": null}
              }
            },
            {
              "data": {"name": "ma"},
              "mark": {"type": "line", "color": "#ff0000", "strokeWidth": 2.5, "interpolate": "monotone"},
              "encoding": {"x": {"field": "t", "type": "temporal"}, "y": {"field": "m200", "type": "quantitative"}}
            },
            {
              "data": {"name": "ma"},
              "mark": {"type": "line", "color": "#0a10ff", "strokeWidth": 2.5, "interpolate": "monotone"},
              "encoding": {"x": {"field": "t", "type": "temporal"}, "y": {"field": "m50", "type": "quantitative"}}
            },
            {
              "data": {"values": [{"v": 119.8}]},
              "mark": {"type": "rule", "color": "#4caf50", "strokeDash": [3, 3], "strokeWidth": 1},
              "encoding": {"y": {"field": "v", "type": "quantitative"}}
            },
            {
              "data": {"name": "dots"},
              "mark": {"type": "circle", "size": 70, "opacity": 1},
              "encoding": {
                "x": {"field": "t", "type": "temporal"},
                "y": {"field": "v", "type": "quantitative"},
                "color": {"field": "k", "type": "nominal", "scale": {"domain": ["r", "y", "g"], "range": ["#e35d5d", "#ffd000", "#7fd45a"]}, "legend": null}
              }
            },
            {
              "data": {"values": [{"s": "close", "v": 119.8}, {"s": "mm50", "v": 110.25}, {"s": "mm200", "v": 108.2}]},
              "mark": {"type": "point", "shape": "M-1,-0.352H1V0.352H-1Z", "size": 2916, "filled": true, "opacity": 1, "strokeWidth": 0, "xOffset": 27},
              "encoding": {
                "x": {"value": "width"},
                "y": {"field": "v", "type": "quantitative"},
                "color": {"field": "s", "type": "nominal", "scale": {"domain": ["close", "mm50", "mm200"], "range": ["#3fae49", "#0000ff", "#ff0000"]}, "legend": null}
              }
            },
            {
              "data": {"values": [{"s": "close", "v": 119.8}, {"s": "mm50", "v": 110.25}, {"s": "mm200", "v": 108.2}]},
              "mark": {"type": "text", "font": "Liberation Sans", "fontSize": 12.5, "color": "#ffffff", "align": "center", "baseline": "middle", "xOffset": 27},
              "encoding": {"x": {"value": "width"}, "y": {"field": "v", "type": "quantitative"}, "text": {"field": "v", "type": "quantitative", "format": ".2f"}}
            },
            {
              "data": {"values": [{"p": 0.0436, "v": 119.8}]},
              "mark": {"type": "point", "shape": "M-1,-0.419H1V0.419H-1Z", "size": 1849, "filled": true, "opacity": 1, "color": "#5cb860", "strokeWidth": 0, "xOffset": -22},
              "encoding": {"x": {"value": "width"}, "y": {"field": "v", "type": "quantitative"}}
            },
            {
              "data": {"values": [{"p": 0.0436, "v": 119.8}]},
              "mark": {"type": "text", "font": "Liberation Sans", "fontSize": 12.5, "color": "#ffffff", "align": "center", "baseline": "middle", "xOffset": -22},
              "encoding": {"x": {"value": "width"}, "y": {"field": "v", "type": "quantitative"}, "text": {"field": "p", "type": "quantitative", "format": ".2%"}}
            }
          ]
        }
      ]
    },
    {
      "width": 973,
      "height": 82,
      "title": {"text": "Supertrend V1.0 - Buy or Sell Signal (3, 7)", "offset": -26},
      "layer": [
        {
          "data": {"name": "st"},
          "mark": {"type": "line", "interpolate": "step-after", "strokeWidth": 2},
          "encoding": {
            "x": {"field": "t", "type": "temporal", "scale": {"type": "utc", "domain": [{"year": 2018, "month": 7, "date": 5, "utc": true}, {"year": 2020, "month": 8, "date": 30, "hours": 12, "utc": true}]}, "axis": {"title": null, "labels": false, "ticks": false, "domain": true, "grid": true, "values": [{"year": 2018, "month": 8, "date": 1, "utc": true}, {"year": 2018, "month": 10, "date": 8, "utc": true}, {"year": 2019, "month": 1, "date": 1, "utc": true}, {"year": 2019, "month": 4, "date": 1, "utc": true}, {"year": 2019, "month": 7, "date": 1, "utc": true}, {"year": 2019, "month": 10, "date": 1, "utc": true}, {"year": 2020, "month": 1, "date": 1, "utc": true}, {"year": 2020, "month": 4, "date": 1, "utc": true}, {"year": 2020, "month": 7, "date": 1, "utc": true}]}},
            "y": {"field": "v", "type": "quantitative", "scale": {"domain": [82.8, 146.9], "nice": false, "zero": false}, "axis": {"orient": "right", "title": null, "values": [100, 125], "format": "d"}},
            "color": {"field": "tr", "type": "nominal", "scale": {"domain": ["buy", "sell"], "range": ["#1c9e1c", "#e3104f"]}, "legend": null},
            "detail": {"field": "seg", "type": "nominal"}
          }
        },
        {
          "data": {"name": "spk"},
          "transform": [{"filter": "datum.tr === 'sell'"}],
          "mark": {"type": "rule", "color": "#ff1a1a", "strokeWidth": 1},
          "encoding": {"x": {"field": "t", "type": "temporal"}, "y": {"field": "v", "type": "quantitative"}, "y2": {"datum": 146.9}}
        },
        {
          "data": {"name": "spk"},
          "transform": [{"filter": "datum.tr === 'buy'"}],
          "mark": {"type": "rule", "color": "#2bd12b", "strokeWidth": 1},
          "encoding": {"x": {"field": "t", "type": "temporal"}, "y": {"field": "v", "type": "quantitative"}, "y2": {"datum": 82.8}}
        },
        {
          "data": {"values": [{"v": 111}]},
          "mark": {"type": "point", "shape": "M-1,-0.474H1V0.474H-1Z", "size": 1444, "filled": true, "opacity": 1, "color": "#22c41a", "strokeWidth": 0, "xOffset": 19},
          "encoding": {"x": {"value": "width"}, "y": {"field": "v", "type": "quantitative"}}
        },
        {
          "data": {"values": [{"v": 111}]},
          "mark": {"type": "text", "font": "Liberation Sans", "fontSize": 13, "color": "#ffffff", "align": "center", "baseline": "middle", "xOffset": 19},
          "encoding": {"x": {"value": "width"}, "y": {"field": "v", "type": "quantitative"}, "text": {"field": "v", "type": "quantitative", "format": "d"}}
        }
      ]
    },
    {
      "width": 973,
      "height": 93,
      "title": {"text": "TRIX (18)", "offset": -26},
      "layer": [
        {
          "data": {"name": "trix"},
          "mark": {"type": "line", "color": "#aee4ec", "strokeWidth": 2, "interpolate": "monotone"},
          "encoding": {
            "x": {"field": "t", "type": "temporal", "scale": {"type": "utc", "domain": [{"year": 2018, "month": 7, "date": 5, "utc": true}, {"year": 2020, "month": 8, "date": 30, "hours": 12, "utc": true}]}, "axis": {"title": null, "labels": true, "ticks": true, "tickSize": 4, "labelPadding": 7, "domain": true, "grid": true, "labelFont": "Liberation Sans", "labelFontSize": 12, "values": [{"year": 2018, "month": 8, "date": 1, "utc": true}, {"year": 2018, "month": 10, "date": 8, "utc": true}, {"year": 2019, "month": 1, "date": 1, "utc": true}, {"year": 2019, "month": 4, "date": 1, "utc": true}, {"year": 2019, "month": 7, "date": 1, "utc": true}, {"year": 2019, "month": 10, "date": 1, "utc": true}, {"year": 2020, "month": 1, "date": 1, "utc": true}, {"year": 2020, "month": 4, "date": 1, "utc": true}, {"year": 2020, "month": 7, "date": 1, "utc": true}], "labelExpr": "utcmonth(datum.value) == 0 ? utcFormat(datum.value, '%Y') : utcmonth(datum.value) == 3 ? 'Apr' : utcmonth(datum.value) == 6 ? 'Lug' : utcmonth(datum.value) == 7 ? 'Ago' : utcdate(datum.value) == 8 ? '8' : 'Ott'"}},
            "y": {"field": "v", "type": "quantitative", "scale": {"domain": [-64.7, 82], "nice": false, "zero": false}, "axis": {"orient": "right", "title": null, "values": [-50, 0, 50], "labelExpr": "datum.value == 50 ? '' : format(datum.value, '.2f')", "gridDash": {"condition": {"test": "datum.value === 0", "value": [5, 4]}, "value": []}, "gridColor": {"condition": {"test": "datum.value === 0", "value": "#9a9a9a"}, "value": "#ffffff"}, "gridOpacity": {"condition": {"test": "datum.value === 0", "value": 0.9}, "value": 0.2}}}
          }
        },
        {
          "data": {"values": [{"v": 47.29}]},
          "mark": {"type": "point", "shape": "M-1,-0.375H1V0.375H-1Z", "size": 2304, "filled": true, "opacity": 1, "color": "#b2ebf2", "strokeWidth": 0, "xOffset": 24},
          "encoding": {"x": {"value": "width"}, "y": {"field": "v", "type": "quantitative"}}
        },
        {
          "data": {"values": [{"v": 47.29}]},
          "mark": {"type": "text", "font": "Liberation Sans", "fontSize": 12.5, "color": "#1a1a1a", "align": "center", "baseline": "middle", "xOffset": 24},
          "encoding": {"x": {"value": "width"}, "y": {"field": "v", "type": "quantitative"}, "text": {"field": "v", "type": "quantitative", "format": ".2f"}}
        }
      ]
    }
  ]
}
